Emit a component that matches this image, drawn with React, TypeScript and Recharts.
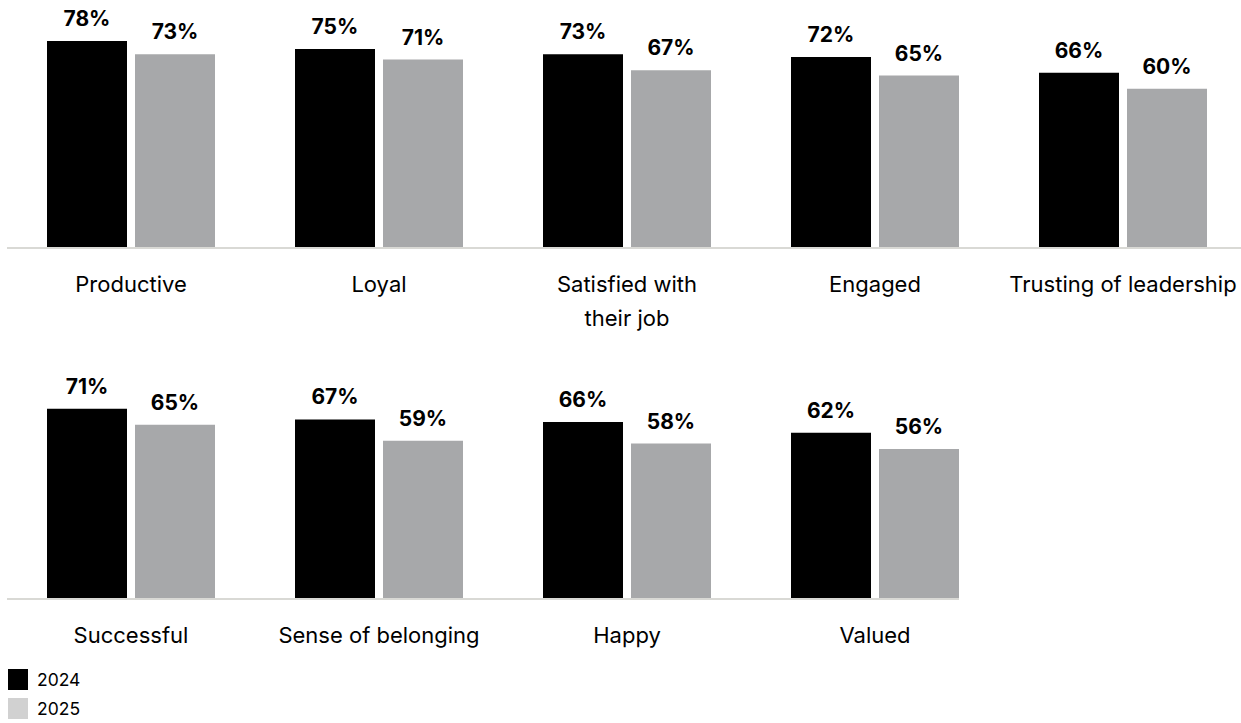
import React from 'react';
import { BarChart, Bar, XAxis, YAxis, LabelList } from 'recharts';

const topCategories = ['Productive', 'Loyal', 'Satisfied with|their job', 'Engaged', 'Trusting of leadership'];
const top2024 = [78, 75, 73, 72, 66];
const top2025 = [73, 71, 67, 65, 60];

const bottomCategories = ['Successful', 'Sense of belonging', 'Happy', 'Valued'];
const bottom2024 = [71, 67, 66, 62];
const bottom2025 = [65, 59, 58, 56];

const seriesNames = ['2024', '2025'];
const barColors = ['#000000', '#a7a8aa'];
const legendColors = ['#000000', '#d1d1d1'];

const FONT = 'Inter, "Noto Sans", sans-serif';

const topData = topCategories.map((name, i) => ({ name, y2024: top2024[i], y2025: top2025[i] }));
const bottomData = bottomCategories.map((name, i) => ({ name, y2024: bottom2024[i], y2025: bottom2025[i] }));

const CategoryTick = (props: any) => {
  const { x, y, payload } = props;
  const lines = String(payload.value).split('|');
  return (
    <g>
      {lines.map((line: string, i: number) => (
        <text
          key={i}
          x={x}
          y={y + 44 + i * 34}
          textAnchor="middle"
          fontSize={22}
          fontFamily={FONT}
          fill="#000"
        >
          {line}
        </text>
      ))}
    </g>
  );
};

const fmt = (v: any) => `${v}%`;

const labelStyle = { fontSize: 21, fontWeight: 700, fontFamily: FONT, fill: '#000' } as any;

function Row({ data, width, height, axisHeight, marginRight, padRight, domainMax }: any) {
  return (
    <BarChart
      width={width}
      height={height}
      data={data}
      margin={{ top: 0, right: marginRight, left: 7, bottom: 0 }}
      barSize={80}
      barGap={8}
    >
      <XAxis
        dataKey="name"
        height={axisHeight}
        interval={0}
        tickLine={false}
        tickSize={0}
        tickMargin={0}
        axisLine={{ stroke: '#d9d9d5', strokeWidth: 2 }}
        tick={<CategoryTick />}
        padding={{ left: 0, right: padRight }}
      />
      <YAxis hide domain={[0, domainMax]} />
      <Bar dataKey="y2024" name={seriesNames[0]} fill={barColors[0]} isAnimationActive={false}>
        <LabelList dataKey="y2024" position="top" offset={15} formatter={fmt} style={labelStyle} />
      </Bar>
      <Bar dataKey="y2025" name={seriesNames[1]} fill={barColors[1]} isAnimationActive={false}>
        <LabelList dataKey="y2025" position="top" offset={15} formatter={fmt} style={labelStyle} />
      </Bar>
    </BarChart>
  );
}

export default function App() {
  return (
    <div style={{ position: 'absolute', left: 0, top: 0, width: 1241, height: 723, background: '#fff', fontFamily: FONT, overflow: 'hidden' }}>
      <div style={{ position: 'absolute', left: 0, top: 0 }}>
        <Row data={topData} width={1241} height={340} axisHeight={92} marginRight={0} padRight={-6} domainMax={93.45} />
      </div>
      <div style={{ position: 'absolute', left: 0, top: 350 }}>
        <Row data={bottomData} width={1241} height={309} axisHeight={60} marginRight={282} padRight={-40} domainMax={92.9} />
      </div>
      <div style={{ position: 'absolute', left: 8, top: 669 }}>
        {seriesNames.map((n, i) => (
          <div key={n} style={{ display: 'flex', alignItems: 'center', height: 21, marginBottom: 8 }}>
            <div style={{ width: 20, height: 21, background: legendColors[i], marginRight: 9 }} />
            <span style={{ fontSize: 17.5, color: '#000', lineHeight: '21px' }}>{n}</span>
          </div>
        ))}
      </div>
    </div>
  );
}
